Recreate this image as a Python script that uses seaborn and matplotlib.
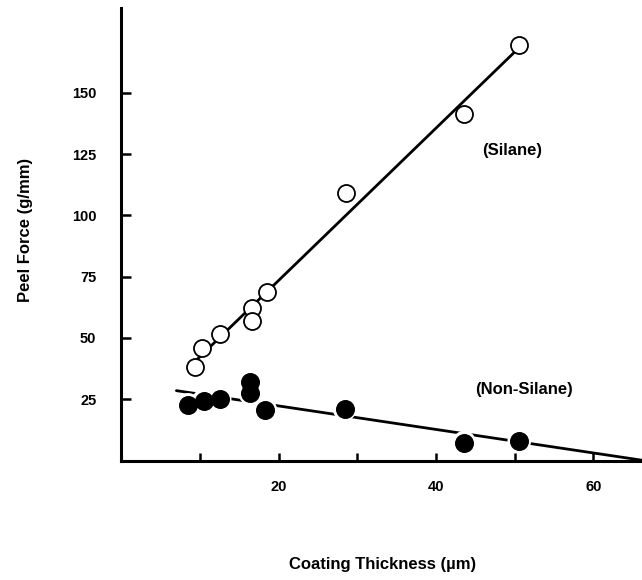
import numpy as np
import seaborn as sns
import matplotlib.pyplot as plt

# peel force (g/mm) vs coating thickness (um)
silane_x = [9.4, 10.3, 12.5, 16.6, 16.6, 18.5, 28.6, 43.6, 50.5]
silane_y = [38.3, 46.0, 51.5, 62.4, 56.9, 68.7, 109.2, 141.3, 169.6]
nonsilane_x = [8.5, 10.5, 12.5, 16.4, 16.4, 18.3, 28.4, 43.6, 50.6]
nonsilane_y = [22.7, 24.4, 25.1, 31.9, 27.4, 20.6, 21.0, 7.3, 8.0]

# x range over which each least squares line is drawn
silane_fit_range = [9.4, 50.5]
nonsilane_fit_range = [7.0, 66.2]

x_ticks = [10, 20, 30, 40, 50, 60]
x_ticklabels = ['', '20', '', '40', '', '60']
y_ticks = [25, 50, 75, 100, 125, 150]


def fit_line(x, y, xr):
    k, b = np.polyfit(x, y, 1)
    xs = np.array(xr)
    return xs, k * xs + b


sns.set_style('ticks', {'axes.edgecolor': 'black', 'text.color': 'black',
                        'xtick.color': 'black', 'ytick.color': 'black',
                        'axes.labelcolor': 'black'})
plt.rcParams['font.family'] = ['Liberation Sans', 'DejaVu Sans']
plt.rcParams['font.weight'] = 'bold'

fig = plt.figure(figsize=(6.42, 5.8), dpi=100)
ax = fig.add_axes([0.189, 0.206, 0.811, 0.780])

# fitted lines
xs, ys = fit_line(silane_x, silane_y, silane_fit_range)
sns.lineplot(x=xs, y=ys, color='black', lw=2, ax=ax, zorder=2)
xs, ys = fit_line(nonsilane_x, nonsilane_y, nonsilane_fit_range)
sns.lineplot(x=xs, y=ys, color='black', lw=2, ax=ax, zorder=2)

# white halo behind the filled points -> small gaps in the line
sns.scatterplot(x=nonsilane_x, y=nonsilane_y, s=290, color='white',
                edgecolor='none', ax=ax, zorder=3)
sns.scatterplot(x=nonsilane_x, y=nonsilane_y, s=160, color='black',
                edgecolor='black', ax=ax, zorder=4)
sns.scatterplot(x=silane_x, y=silane_y, s=150, color='white',
                edgecolor='black', linewidth=1.3, ax=ax, zorder=4)

ax.text(49.7, 126.4, '(Silane)', ha='center', va='center', fontsize=12, fontweight='bold')
ax.text(51.2, 28.8, '(Non-Silane)', ha='center', va='center', fontsize=12, fontweight='bold')

ax.set_xlim(0, 66.2)
ax.set_ylim(0, 184.6)
ax.set_xticks(x_ticks)
ax.set_xticklabels(x_ticklabels)
ax.set_yticks(y_ticks)
ax.set_yticklabels([str(v) for v in y_ticks])

sns.despine(ax=ax)
for s in ['left', 'bottom']:
    ax.spines[s].set_linewidth(2.2)
ax.tick_params(axis='x', direction='in', length=6, width=1.8, pad=14, labelsize=10.5)
ax.tick_params(axis='y', direction='in', length=7, width=1.8, pad=18, labelsize=10.5)
for lab in ax.get_xticklabels() + ax.get_yticklabels():
    lab.set_fontweight('bold')

ax.set_xlabel('Coating Thickness (µm)', fontsize=12, fontweight='bold')
ax.set_ylabel('Peel Force (g/mm)', fontsize=12, fontweight='bold')
ax.xaxis.set_label_coords(0.5025, -0.213)
ax.yaxis.set_label_coords(-0.17, 0.51)

fig.savefig('out.png', dpi=100)
